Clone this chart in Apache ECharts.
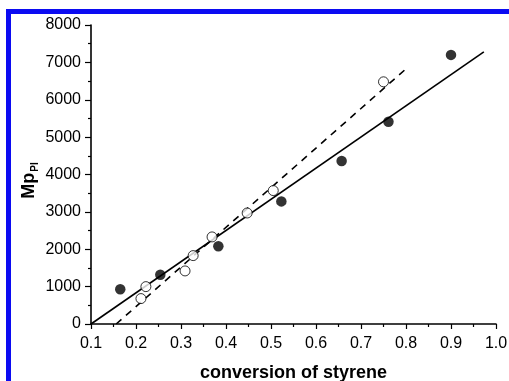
<!DOCTYPE html>
<html>
<head>
<meta charset="utf-8">
<script src="https://cdn.jsdelivr.net/npm/echarts@6/dist/echarts.min.js"></script>
<style>
  html, body { margin: 0; padding: 0; background: #fff; }
  #chart { width: 509px; height: 381px; }
</style>
</head>
<body>
<div id="chart"></div>
<script>
// Filled circles: conversion of styrene vs Mp(PI)
const filledX = [0.165, 0.254, 0.383, 0.523, 0.657, 0.761, 0.900];
const filledY = [930, 1320, 2080, 3280, 4360, 5410, 7200];
// Open circles
const openX = [0.211, 0.222, 0.309, 0.327, 0.369, 0.447, 0.505, 0.750];
const openY = [680, 1000, 1420, 1830, 2330, 2970, 3570, 6480];
// Linear fits (end points)
const solidFitX = [0.100, 0.973];
const solidFitY = [0, 7280];
const dashFitX = [0.156, 0.805];
const dashFitY = [0, 6880];

const xTicks = ['0.1','0.2','0.3','0.4','0.5','0.6','0.7','0.8','0.9','1.0'];

const zip = (a, b) => a.map((v, i) => [v, b[i]]);
const chart = echarts.init(document.getElementById('chart'));
const font = 'Liberation Sans, Arial, sans-serif';

chart.setOption({
  animation: false,
  backgroundColor: '#fff',
  grid: { left: 91, right: 13, top: 25, bottom: 57, containLabel: false, outerBoundsMode: 'none' },
  xAxis: {
    type: 'value', min: 0.1, max: 1.0, interval: 0.1,
    splitLine: { show: false },
    axisLine: { show: true, onZero: false, lineStyle: { color: '#000', width: 1.6 } },
    axisTick: { show: true, inside: false, length: 5, lineStyle: { color: '#000', width: 1.2 } },
    minorTick: { show: true, splitNumber: 2, length: 3, lineStyle: { color: '#000', width: 1.2 } },
    axisLabel: { color: '#000', fontFamily: font, fontSize: 16, margin: 12,
      formatter: v => xTicks[Math.round(v * 10) - 1] },
    name: 'conversion of styrene', nameLocation: 'middle', nameGap: 40, nameMoveOverlap: false,
    nameTextStyle: { color: '#000', fontFamily: font, fontSize: 18, fontWeight: 'bold' }
  },
  yAxis: {
    type: 'value', min: 0, max: 8000, interval: 1000,
    splitLine: { show: false },
    axisLine: { show: true, onZero: false, lineStyle: { color: '#000', width: 1.6 } },
    axisTick: { show: true, inside: false, length: 6, lineStyle: { color: '#000', width: 1.2 } },
    minorTick: { show: true, splitNumber: 2, length: 3, lineStyle: { color: '#000', width: 1.2 } },
    axisLabel: { color: '#000', fontFamily: font, fontSize: 16, margin: 10,
      formatter: v => String(v) },
    name: '{m|Mp}{s|PI}', nameLocation: 'middle', nameGap: 51, nameRotate: 90, nameMoveOverlap: false,
    nameTextStyle: {
      padding: [0, 12, 0, 0],
      rich: {
        m: { color: '#000', fontFamily: font, fontSize: 18, fontWeight: 'bold' },
        s: { color: '#000', fontFamily: font, fontSize: 10, fontWeight: 'bold', padding: [12, 0, 0, 1] }
      }
    }
  },
  series: [
    { type: 'line', data: zip(solidFitX, solidFitY), symbol: 'none',
      lineStyle: { color: '#000', width: 1.6 }, z: 2 },
    { type: 'line', data: zip(dashFitX, dashFitY), symbol: 'none',
      lineStyle: { color: '#000', width: 1.6, type: [7, 6] }, z: 2 },
    { type: 'scatter', data: zip(filledX, filledY), symbol: 'circle', symbolSize: 10.5,
      itemStyle: { color: '#000' }, z: 3 },
    { type: 'scatter', data: zip(openX, openY), symbol: 'circle', symbolSize: 10,
      itemStyle: { color: '#fff', borderColor: '#000', borderWidth: 1 }, z: 3 }
  ],
  graphic: [
    { type: 'rect', shape: { x: 6, y: 9, width: 503, height: 5 }, style: { fill: '#0b0bf2' } },
    { type: 'rect', shape: { x: 6, y: 9, width: 5, height: 372 }, style: { fill: '#0b0bf2' } }
  ]
});
</script>
</body>
</html>
